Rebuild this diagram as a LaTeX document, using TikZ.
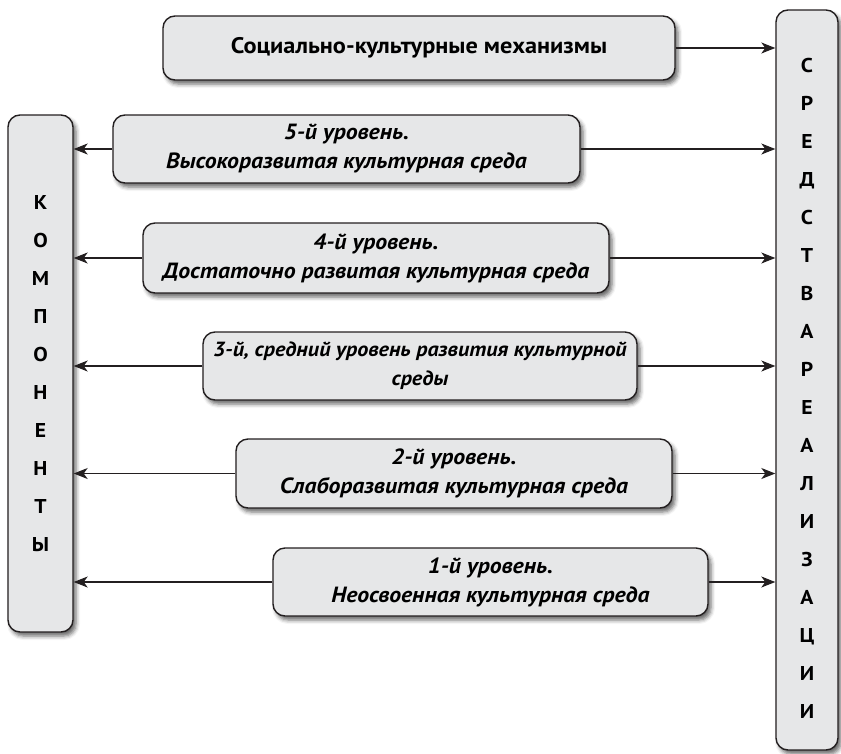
\documentclass[tikz,border=0pt]{standalone}
\usepackage{fontspec}
\setmainfont{PT Sans}[FakeStretch=1.08]
\usepackage{tikz}
\usetikzlibrary{arrows.meta,positioning,shadows.blur}
\definecolor{boxfill}{HTML}{E6E7E8}
\definecolor{boxline}{HTML}{231F20}
\tikzset{box/.style={draw=boxline,fill=boxfill,line width=1.4pt,rounded corners=12pt,inner sep=0pt,align=center,
    blur shadow={shadow xshift=3pt,shadow yshift=-4pt,shadow blur radius=4pt,shadow opacity=60}}}
\tikzset{level/.style={box,font=\fontsize{22}{29}\selectfont\bfseries\itshape}}
\tikzset{side/.style={box,font=\fontsize{20}{38}\selectfont\bfseries}}

\begin{document}
\begin{tikzpicture}[x=1pt, y=-1pt, ->, >={Stealth[length=14pt,width=11pt,inset=4pt]}, line width=1.1pt, draw=boxline]
        \useasboundingbox (0,0) rectangle (841,753);
        \node[box,font=\fontsize{22.5}{26}\selectfont\bfseries,minimum width=512pt,minimum height=64pt] (mech) at (419,48) {Социально-культурные механизмы};
        \node[side,minimum width=62pt,minimum height=740pt] (sred) at (807,380) {};
        \node[font=\fontsize{20}{38}\selectfont\bfseries,align=center] (sredtxt) at (807,388) {С\\Р\\Е\\Д\\С\\Т\\В\\А\\Р\\Е\\А\\Л\\И\\З\\А\\Ц\\И\\И};
        \node[side,minimum width=65pt,minimum height=517pt] (komp) at (40.5,373.5) {К\\О\\М\\П\\О\\Н\\Е\\Н\\Т\\Ы};
        \node[level,minimum width=467pt,minimum height=68pt] (l5) at (346.5,149) {5-й уровень.\\Высокоразвитая культурная среда};
        \node[level,minimum width=466pt,minimum height=70pt] (l4) at (376,258) {4-й уровень.\\Достаточно развитая культурная среда};
        \node[level,font=\fontsize{20.5}{29}\selectfont\bfseries\itshape,minimum width=434pt,minimum height=68pt] (l3) at (420,366) {3-й, средний уровень развития культурной\\среды};
        \node[level,minimum width=436pt,minimum height=69pt] (l2) at (454,473.5) {2-й уровень.\\Слаборазвитая культурная среда};
        \node[level,minimum width=435pt,minimum height=68pt] (l1) at (490.5,582) {1-й уровень.\\Неосвоенная культурная среда};
        \draw (mech.east) -- (mech.east -| sred.west);
        \foreach \n in {l5,l4,l3,l2,l1} {
            \draw (\n.west) -- (\n.west -| komp.east);
            \draw (\n.east) -- (\n.east -| sred.west);
        }
\end{tikzpicture}
\end{document}
